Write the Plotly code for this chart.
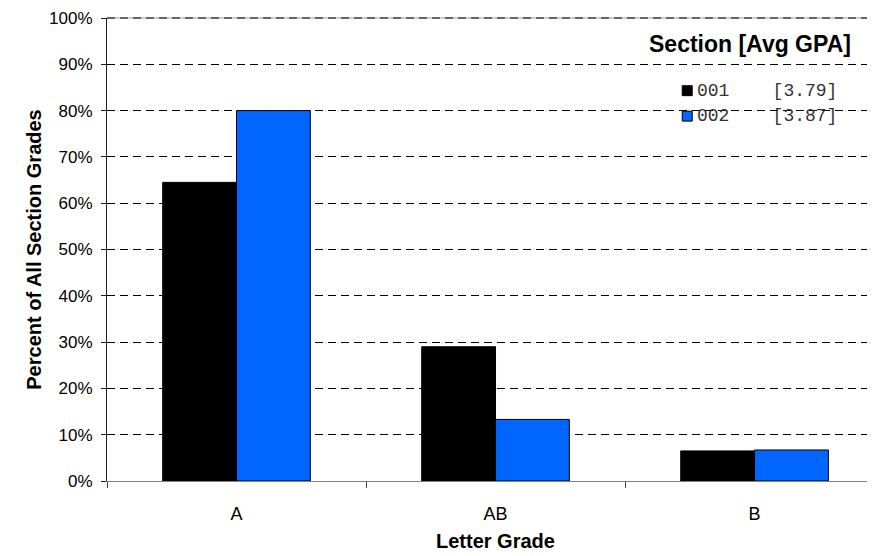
import plotly.graph_objects as go

grades = ["A", "AB", "B"]
sections = ["001", "002"]
avg_gpa = ["3.79", "3.87"]
pct_001 = [64.5, 29.0, 6.5]
pct_002 = [80.0, 13.3, 6.7]
colors = ["#000000", "#0066FF"]
y_ticks = [0, 10, 20, 30, 40, 50, 60, 70, 80, 90, 100]
y_tick_labels = [f"{v}%" for v in y_ticks]

fig = go.Figure()
for name, vals, col in zip(sections, [pct_001, pct_002], colors):
    fig.add_trace(go.Bar(
        x=grades, y=vals, name=name,
        marker=dict(color=col, line=dict(color="#000000", width=1)),
        showlegend=False,
    ))

font_main = "Liberation Sans, Arial, sans-serif"
fig.update_layout(
    width=875, height=556,
    margin=dict(l=99, r=8, t=10, b=83),
    paper_bgcolor="white", plot_bgcolor="white",
    barmode="group", bargap=0.43, bargroupgap=0,
    font=dict(family=font_main, size=18, color="#000000"),
)
fig.update_xaxes(
    type="category", range=[-0.5, 2.465],
    showgrid=False, zeroline=False,
    showline=True, linecolor="#808080", linewidth=1,
    ticks="outside", tickson="boundaries", ticklen=6, tickcolor="#404040",
    ticklabelstandoff=16, automargin=False,
    tickfont=dict(family=font_main, size=18, color="#000000"),
)
fig.update_yaxes(
    range=[0, 100], tickvals=y_ticks, ticktext=y_tick_labels,
    showgrid=True, gridcolor="#000000", gridwidth=1, griddash="8px,5px",
    zeroline=False,
    showline=True, linecolor="#202020", linewidth=1,
    ticks="outside", ticklen=5, tickcolor="#202020",
    ticklabelstandoff=5, ticklabeloverflow="allow", automargin=False,
    tickfont=dict(family=font_main, size=17, color="#000000"),
)

annotations = [
    dict(text="<b>Letter Grade</b>", x="AB", xref="x", y=-0.129, yref="paper",
         yanchor="middle", showarrow=False, font=dict(size=20, family=font_main)),
    dict(text="<b>Percent of All Section Grades</b>", x=-0.113, xref="paper",
         y=0.5, yref="paper", textangle=-90, showarrow=False,
         font=dict(size=20, family=font_main)),
    dict(text="<b>Section [Avg GPA]</b>", x=0.971, xref="paper", y=0.944, yref="paper",
         xanchor="right", yanchor="middle", showarrow=False,
         font=dict(size=23, family=font_main)),
]

shapes = [
    # top border of plot area (100% line)
    dict(type="line", xref="paper", yref="paper", x0=0, x1=1, y0=1, y1=1,
         line=dict(color="#9a9a9a", width=1), layer="between"),
    dict(type="line", xref="paper", yref="paper", x0=0, x1=1, y0=1, y1=1,
         line=dict(color="#000000", width=1, dash="8px,5px"), layer="between"),
    # legend background
    dict(type="rect", xref="paper", yref="paper", x0=0.720, x1=0.984, y0=0.764, y1=0.878,
         fillcolor="white", line=dict(width=0), layer="between"),
]
row_y = [0.843, 0.788]
for name, gpa, col, ry in zip(sections, avg_gpa, colors, row_y):
    shapes.append(dict(type="rect", xref="paper", yref="paper",
                       x0=0.749, x1=0.762, y0=ry - 0.0107, y1=ry + 0.0107,
                       fillcolor=col, line=dict(color="#000000", width=1), layer="above"))
    annotations.append(dict(
        text=name + "\u00a0\u00a0\u00a0\u00a0[" + gpa + "]",
        x=0.766, xref="paper", y=ry, yref="paper", xanchor="left", yanchor="middle",
        showarrow=False, font=dict(family="Liberation Mono, Courier New, monospace",
                                   size=18, color="#333333")))

fig.update_layout(annotations=annotations, shapes=shapes)
fig.write_html("out.html")
